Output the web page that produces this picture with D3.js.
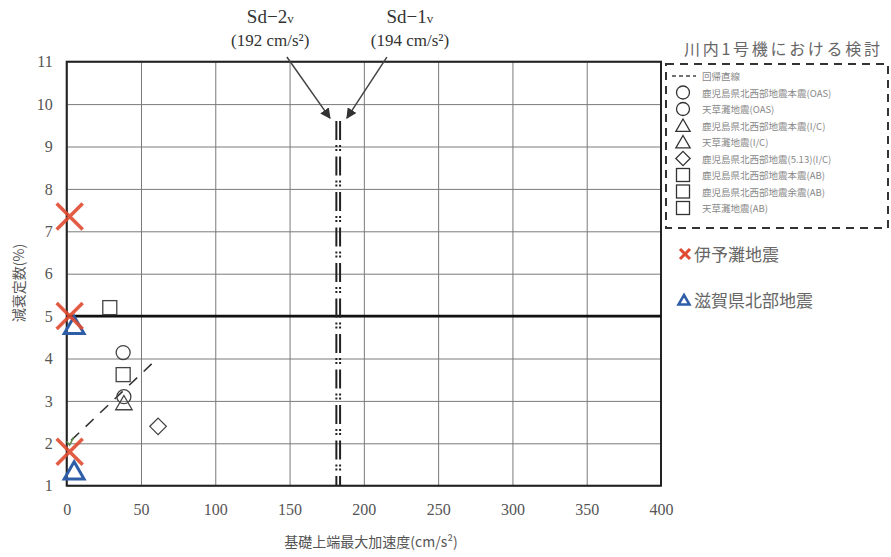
<!DOCTYPE html>
<html><head><meta charset="utf-8">
<script src="https://cdn.jsdelivr.net/npm/d3@7"></script>
<style>body{margin:0;background:#fff}svg{display:block}</style>
</head><body>
<svg id="c" width="891" height="557"></svg>
<script>
// ---- data ----
const xTicks = [0,50,100,150,200,250,300,350,400];
const yTicks = [1,2,3,4,5,6,7,8,9,10,11];
const regression = [[3,2.07],[58,3.9]];
const circleX = [38, 38.5], circleY = [4.14, 3.10];
const squareX = [29, 38], squareY = [5.2, 3.62];
const triangleX = [38.5], triangleY = [2.95];
const diamondX = [61.5], diamondY = [2.4];
const iyoX = [2, 2, 2], iyoY = [7.35, 5.0, 1.8];
const shigaX = [5, 5], shigaY = [4.78, 1.35];
const sdLineX = [181.5, 184];
const sdLineY = [9.6, 1];
const refLineY = 5;
const sdLabels = ["Sd−2", "Sd−1"];
const sdSub = ["v", "v"];
const sdValues = ["(192 cm/s²)", "(194 cm/s²)"];
const sdLabelX = [137, 231];
const arrowFrom = [[148.2, 11.11],[215.5, 11.11]];
const arrowTo = [[177.2, 9.67],[188.6, 9.67]];
const legendTitle = "川内1号機における検討";
const legendItems = ["回帰直線","鹿児島県北西部地震本震(OAS)","天草灘地震(OAS)","鹿児島県北西部地震本震(I/C)","天草灘地震(I/C)","鹿児島県北西部地震(5.13)(I/C)","鹿児島県北西部地震本震(AB)","鹿児島県北西部地震余震(AB)","天草灘地震(AB)"];
const legendShapes = ["line","circle","circle","triangle","triangle","diamond","square","square","square"];
const eqNames = ["伊予灘地震","滋賀県北部地震"];
const xTitle = "基礎上端最大加速度(cm/s²)";
const yTitle = "減衰定数(%)";

// ---- drawing ----
const svg = d3.select("#c");
const serif = "'Liberation Serif','DejaVu Serif',serif";
const cjk = "'Noto Sans CJK JP','Noto Sans CJK SC',sans-serif";
const x = d3.scaleLinear().domain([0,400]).range([66.7,661]);
const y = d3.scaleLinear().domain([1,11]).range([485.7,61.7]);
const RED = "#df4a30", BLUE = "#2e5ea8";

// grid
const gx = svg.append("g").attr("transform",`translate(0,${y(1)})`)
  .call(d3.axisBottom(x).tickValues(xTicks).tickSize(-(y(1)-y(11))).tickPadding(18).tickFormat(d3.format("d")));
gx.select(".domain").remove();
gx.selectAll("line").attr("stroke","#7a7a7a").attr("stroke-width",1);
gx.selectAll("text").attr("font-family",serif).attr("font-size",16).attr("fill","#555");
const gy = svg.append("g").attr("transform",`translate(${x(0)},0)`)
  .call(d3.axisLeft(y).tickValues(yTicks).tickSize(-(x(400)-x(0))).tickPadding(14).tickFormat(d3.format("d")));
gy.select(".domain").remove();
gy.selectAll("line").attr("stroke","#7a7a7a").attr("stroke-width",1);
gy.selectAll("text").attr("font-family",serif).attr("font-size",16).attr("fill","#555");

// frame
svg.append("rect").attr("x",x(0)).attr("y",y(11)).attr("width",x(400)-x(0)).attr("height",y(1)-y(11))
  .attr("fill","none").attr("stroke","#222").attr("stroke-width",2);
// reference line at 5%
svg.append("line").attr("x1",x(0)).attr("x2",x(400)).attr("y1",y(refLineY)).attr("y2",y(refLineY))
  .attr("stroke","#111").attr("stroke-width",2.6);

// Sd lines
sdLineX.forEach(v=>{
  svg.append("line").attr("x1",x(v)).attr("x2",x(v)).attr("y1",y(sdLineY[0])).attr("y2",y(sdLineY[1]))
    .attr("stroke","#222").attr("stroke-width",2).attr("stroke-dasharray","19,5,2,2,2,5.5");
});

// arrows
svg.append("defs").append("marker").attr("id","ah").attr("viewBox","0 0 10 10").attr("refX",9).attr("refY",5)
  .attr("markerWidth",7).attr("markerHeight",7).attr("orient","auto")
  .append("path").attr("d","M0,0 L10,5 L0,10 z").attr("fill","#333");
arrowFrom.forEach((f,i)=>{
  svg.append("line").attr("x1",x(f[0])).attr("y1",y(f[1])).attr("x2",x(arrowTo[i][0])).attr("y2",y(arrowTo[i][1]))
    .attr("stroke","#444").attr("stroke-width",1.5).attr("marker-end","url(#ah)");
});
// Sd labels
sdLabels.forEach((s,i)=>{
  const t = svg.append("text").attr("x",x(sdLabelX[i])).attr("y",23).attr("text-anchor","middle")
    .attr("font-family",serif).attr("font-size",19).attr("fill","#333");
  t.append("tspan").text(s);
  t.append("tspan").attr("font-size",13).text(sdSub[i]);
  svg.append("text").attr("x",x(sdLabelX[i])).attr("y",46).attr("text-anchor","middle")
    .attr("font-family",serif).attr("font-size",17).attr("fill","#333").text(sdValues[i]);
});

// regression line
svg.append("line").attr("x1",x(regression[0][0])).attr("y1",y(regression[0][1]))
  .attr("x2",x(regression[1][0])).attr("y2",y(regression[1][1]))
  .attr("stroke","#333").attr("stroke-width",1.6).attr("stroke-dasharray","11,9");

// shapes
function shape(g, type, cx, cy, s, color, sw){
  if(type==="circle") g.append("circle").attr("cx",cx).attr("cy",cy).attr("r",s/2);
  else if(type==="square") g.append("rect").attr("x",cx-s/2).attr("y",cy-s/2).attr("width",s).attr("height",s);
  else if(type==="triangle") g.append("path").attr("d",`M${cx},${cy-s*0.5} L${cx+s*0.55},${cy+s*0.45} L${cx-s*0.55},${cy+s*0.45} Z`);
  else if(type==="diamond") g.append("path").attr("d",`M${cx},${cy-s*0.55} L${cx+s*0.55},${cy} L${cx},${cy+s*0.55} L${cx-s*0.55},${cy} Z`);
  g.selectAll("*").attr("fill","none").attr("stroke",color).attr("stroke-width",sw);
}
const pg = svg.append("g");
circleX.forEach((v,i)=>shape(pg.append("g"),"circle",x(v),y(circleY[i]),14,"#444",1.3));
squareX.forEach((v,i)=>shape(pg.append("g"),"square",x(v),y(squareY[i]),14,"#444",1.3));
triangleX.forEach((v,i)=>shape(pg.append("g"),"triangle",x(v),y(triangleY[i]),15,"#444",1.3));
diamondX.forEach((v,i)=>shape(pg.append("g"),"diamond",x(v),y(diamondY[i]),15,"#444",1.3));

// small green mark
svg.append("path").attr("d",`M${x(2)-3},${y(2.05)} L${x(2)},${y(2.05)+4} L${x(2)+4},${y(2.05)-4}`)
  .attr("fill","none").attr("stroke","#5a8a4a").attr("stroke-width",1.5);

// Shiga triangles (blue)
shigaX.forEach((v,i)=>shape(svg.append("g"),"triangle",x(v),y(shigaY[i]),18,BLUE,3));
// Iyo X (red)
iyoX.forEach((v,i)=>{
  const cx=x(v), cy=y(iyoY[i]), r=13;
  svg.append("path").attr("d",`M${cx-r},${cy-r} L${cx+r},${cy+r} M${cx+r},${cy-r} L${cx-r},${cy+r}`)
    .attr("stroke",RED).attr("stroke-width",3.5).attr("stroke-opacity",0.9);
});

// axis titles
svg.append("text").attr("x",371).attr("y",547).attr("text-anchor","middle")
  .attr("font-family",cjk).attr("font-size",14).attr("fill","#555").text(xTitle);
svg.append("text").attr("transform","translate(24,283) rotate(-90)").attr("text-anchor","middle")
  .attr("font-family",cjk).attr("font-size",14).attr("fill","#555").text(yTitle);

// legend
svg.append("text").attr("x",782).attr("y",55).attr("text-anchor","middle").attr("font-family",cjk)
  .attr("font-size",16).attr("fill","#666").attr("textLength",196).text(legendTitle);
svg.append("rect").attr("x",666).attr("y",64).attr("width",222).attr("height",164)
  .attr("fill","none").attr("stroke","#333").attr("stroke-width",2).attr("stroke-dasharray","8,6");
const lg = svg.append("g");
legendItems.forEach((t,i)=>{
  const yy = 76 + i*16.5;
  if(legendShapes[i]==="line"){
    lg.append("line").attr("x1",672).attr("x2",696).attr("y1",yy).attr("y2",yy)
      .attr("stroke","#444").attr("stroke-width",1.3).attr("stroke-dasharray","4,3");
  } else {
    shape(lg.append("g"),legendShapes[i],683,yy,13,"#333",1.3);
  }
  lg.append("text").attr("x",702).attr("y",yy+4).attr("font-family",cjk).attr("font-size",9.5)
    .attr("fill","#888").text(t);
});
// earthquake legend
{
  const cx=685, cy=254, r=5;
  svg.append("path").attr("d",`M${cx-r},${cy-r} L${cx+r},${cy+r} M${cx+r},${cy-r} L${cx-r},${cy+r}`)
    .attr("stroke",RED).attr("stroke-width",3);
  svg.append("text").attr("x",694).attr("y",261).attr("font-family",cjk).attr("font-size",17)
    .attr("fill","#666").text(eqNames[0]);
  shape(svg.append("g"),"triangle",684,300,10,BLUE,2.5);
  svg.append("text").attr("x",694).attr("y",307).attr("font-family",cjk).attr("font-size",17)
    .attr("fill","#666").text(eqNames[1]);
}
</script>
</body></html>
